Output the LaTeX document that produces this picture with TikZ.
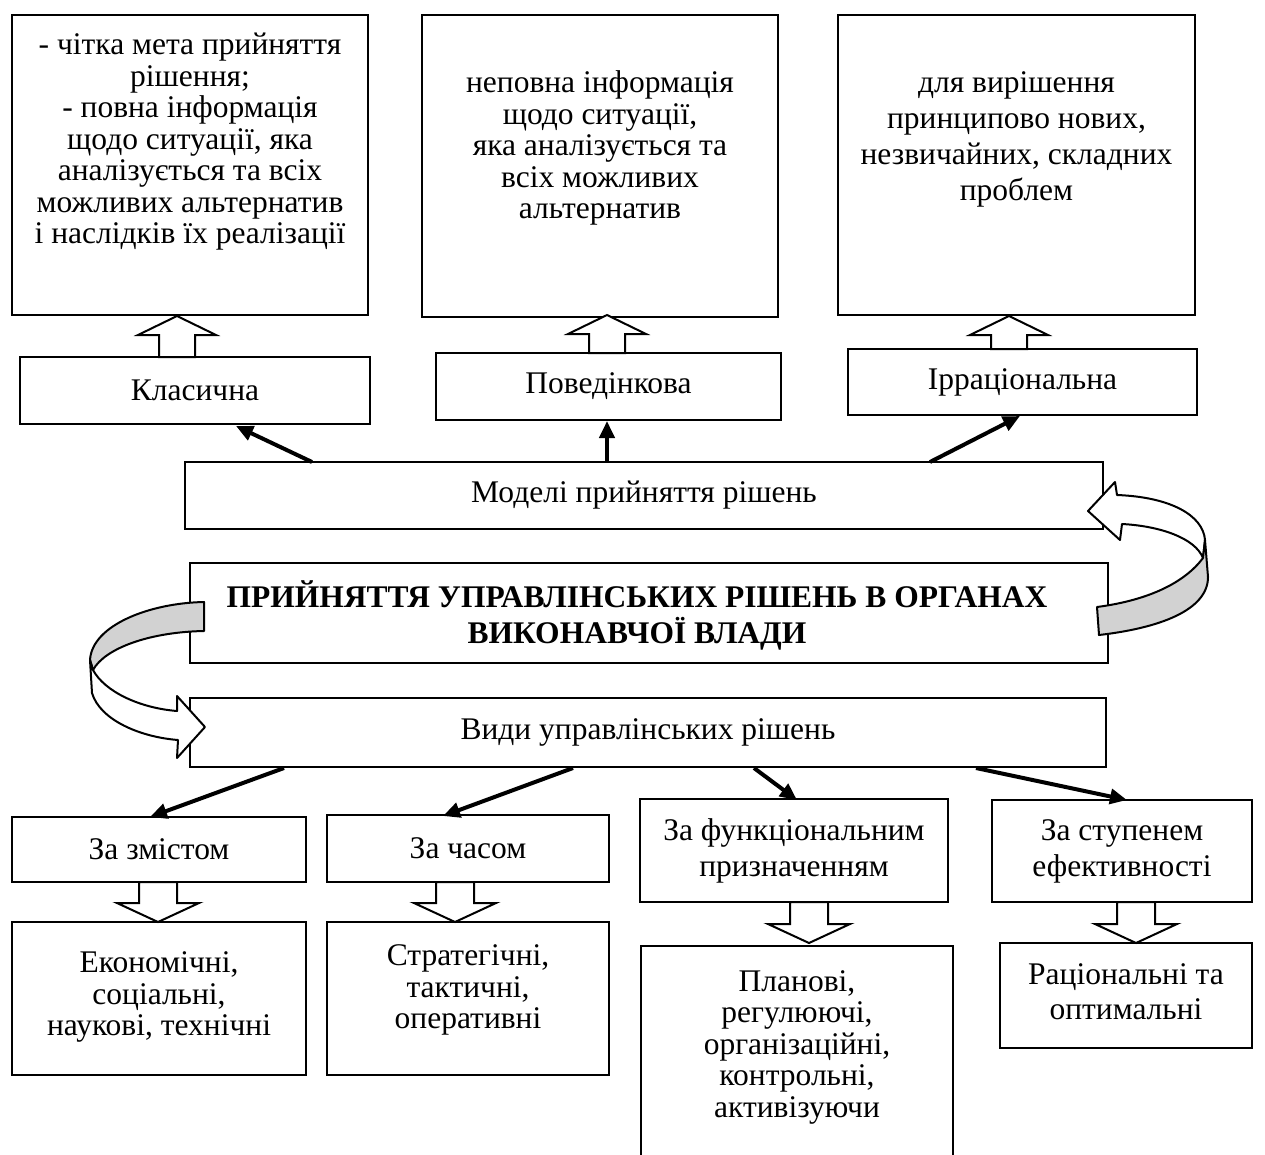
\documentclass[tikz,border=0pt]{standalone}
\usepackage{fontspec}
\setmainfont{Liberation Serif}
\usetikzlibrary{arrows.meta}
\definecolor{bandgray}{RGB}{210,210,210}
\newcommand\blkup[3]{\draw[blk] (#1,#2) -- (#1+39,#2+19) -- (#1+18,#2+19) -- (#1+18,#3) -- (#1-18,#3) -- (#1-18,#2+19) -- (#1-39,#2+19) -- cycle;}
\newcommand\blkdown[3]{\draw[blk] (#1,#2) -- (#1+41,#2-19) -- (#1+19,#2-19) -- (#1+19,#3) -- (#1-19,#3) -- (#1-19,#2-19) -- (#1-41,#2-19) -- cycle;}
\begin{document}
\begin{tikzpicture}[x=1pt,y=-1pt,
  bx/.style 2 args={draw,line width=1.2pt,minimum width=#1,minimum height=#2,inner sep=0pt},
  txt/.style={font=\fontsize{31.5}{31.5}\selectfont,align=center,inner sep=0pt},
  blk/.style={draw,line width=2pt,fill=white,line join=miter},
  thk/.style={line width=4pt,-{Triangle[length=17pt,width=15pt]}},
  band/.style={draw,line width=2pt,line join=round}]
\useasboundingbox (0,0) rectangle (1265,1154);
\clip (0,0) rectangle (1265,1154);
\fill[white] (0,0) rectangle (1265,1154);
% top boxes
\node[bx={356pt}{300pt}] (t1) at (190,165) {};
\node[txt] (t1t) at (190,142) {- чітка мета прийняття\\рішення;\\- повна інформація\\щодо ситуації, яка\\аналізується та всіх\\можливих альтернатив\\і наслідків їх реалізації};
\node[bx={356pt}{302pt}] (t2) at (600,166) {};
\node[txt] (t2t) at (600,148) {неповна інформація\\щодо ситуації,\\яка аналізується та\\всіх можливих\\альтернатив};
\node[bx={357pt}{300pt}] (t3) at (1016.5,165) {};
\node[txt,font=\fontsize{31.5}{36}\selectfont] (t3t) at (1016.5,139) {для вирішення\\принципово нових,\\незвичайних, складних\\проблем};
% model boxes
\node[bx={350pt}{67pt},txt] (klas) at (195,390.5) {Класична};
\node[bx={345pt}{67pt},txt] (pov) at (608.5,386.5) {Поведінкова};
\node[bx={349pt}{66pt},txt] (irr) at (1022.5,382) {Ірраціональна};
\node[bx={918pt}{67pt},txt] (models) at (644,495.5) {Моделі прийняття рішень};
\node[bx={918pt}{100pt}] (main) at (649,613) {};
\node[txt,font=\fontsize{31.5}{36}\selectfont\bfseries] (maint) at (637,615) {ПРИЙНЯТТЯ УПРАВЛІНСЬКИХ РІШЕНЬ В ОРГАНАХ\\ВИКОНАВЧОЇ ВЛАДИ};
\node[bx={916pt}{69pt},txt] (vydy) at (648,732.5) {Види управлінських рішень};
% criteria boxes
\node[bx={294pt}{65pt},txt] (zm) at (159,849.5) {За змістом};
\node[bx={282pt}{67pt},txt] (ch) at (468,848.5) {За часом};
\node[bx={308pt}{103pt},txt,font=\fontsize{31.5}{36}\selectfont] (fn) at (794,850.5) {За функціональним\\призначенням};
\node[bx={260pt}{102pt},txt,font=\fontsize{31.5}{36}\selectfont] (st) at (1122,851) {За ступенем\\ефективності};
% result boxes
\node[bx={294pt}{153pt}] (ek) at (159,998.5) {};
\node[txt] (ekt) at (159,997) {Економічні,\\соціальні,\\наукові, технічні};
\node[bx={282pt}{153pt}] (str) at (468,998.5) {};
\node[txt] (strt) at (468,990) {Стратегічні,\\тактичні,\\оперативні};
\node[bx={312pt}{220pt}] (pl) at (797,1056) {};
\node[txt] (plt) at (797,1047) {Планові,\\регулюючі,\\організаційні,\\контрольні,\\активізуючи};
\node[bx={252pt}{105pt}] (rac) at (1126,995.5) {};
\node[txt,font=\fontsize{31.5}{35}\selectfont] (ract) at (1126,992) {Раціональні та\\оптимальні};
% block arrows
\blkup{177}{316}{357}
\blkup{607}{315}{353}
\blkup{1009}{316}{349}
\blkdown{158}{922}{882}
\blkdown{455}{922}{882}
\blkdown{809}{943}{902}
\blkdown{1136}{943}{902}
% thick arrows
\coordinate (m1) at (312,462);
\coordinate (m2) at (607,462);
\coordinate (m3) at (930,462);
\coordinate (k1) at (236,426);
\coordinate (k2) at (607,421);
\coordinate (k3) at (1020,416);
\draw[thk] (m1) -- (k1);
\draw[thk] (m2) -- (k2);
\draw[thk] (m3) -- (k3);
\coordinate (v1) at (284,768);
\coordinate (v2) at (573,768);
\coordinate (v3) at (754,768);
\coordinate (v4) at (976,768);
\coordinate (z1) at (150,817);
\coordinate (z2) at (443,816);
\coordinate (z3) at (797,800);
\coordinate (z4) at (1127,800);
\draw[thk] (v1) -- (z1);
\draw[thk] (v2) -- (z2);
\draw[thk] (v3) -- (z3);
\draw[thk] (v4) -- (z4);
% right curved arrow
\draw[band,fill=white] (1117,495) .. controls (1170,497) and (1203,515) .. (1205,540) -- (1203,558) .. controls (1195,538) and (1160,526) .. (1122,524) -- (1120,540) -- (1088,511) -- (1115,482) -- cycle;
\draw[band,fill=bandgray] (1203,558) .. controls (1185,582) and (1150,600) .. (1097,607) -- (1099,635) .. controls (1160,628) and (1208,610) .. (1208,577) -- (1205,540) -- cycle;
% left curved arrow
\draw[band,fill=bandgray] (204,602) .. controls (150,603) and (92,625) .. (90,660) -- (93,670) .. controls (105,648) and (150,632) .. (204,631) -- cycle;
\draw[band,fill=white] (90,660) -- (92,693) .. controls (100,720) and (140,737) .. (178,740) -- (177,758) -- (205,727) -- (177,696) -- (177,711) .. controls (140,708) and (105,692) .. (93,670) -- cycle;
\end{tikzpicture}
\end{document}
